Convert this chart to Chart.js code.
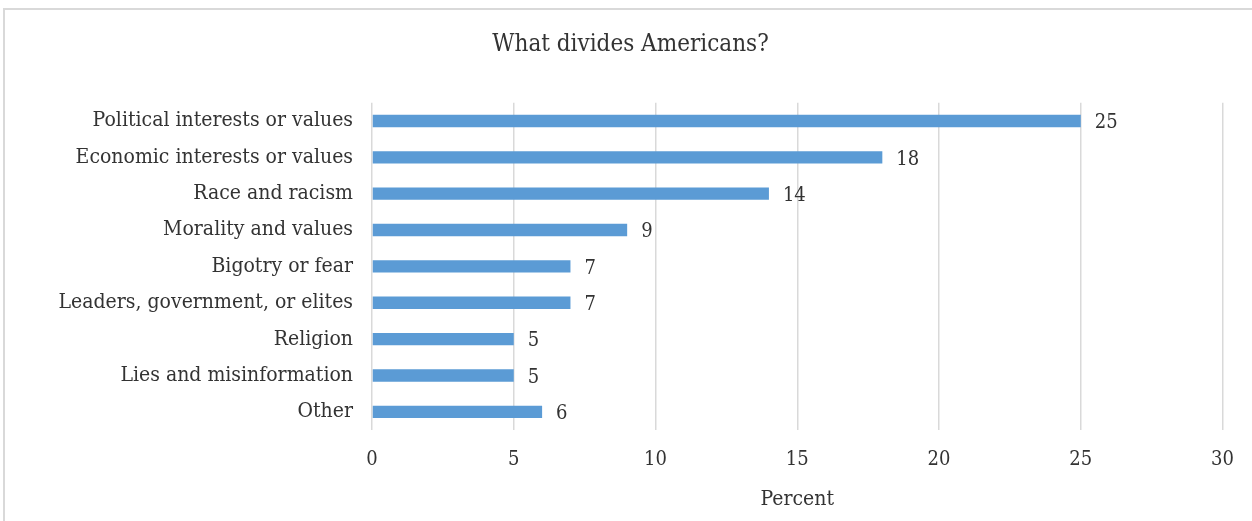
<!DOCTYPE html>
<html>
<head>
<meta charset="utf-8">
<script src="https://cdn.jsdelivr.net/npm/chart.js@4.4.1/dist/chart.umd.min.js"></script>
<style>
  html, body { margin: 0; padding: 0; background: #fff; overflow: hidden; }
  .frame {
    position: absolute; left: 3px; top: 8px; width: 1300px; height: 600px;
    border-left: 2px solid #d9d9d9; border-top: 2px solid #d9d9d9;
  }
  .wrap { position: absolute; left: 0; top: 0; width: 1252px; height: 521px; }
</style>
</head>
<body>
<div class="frame"></div>
<div class="wrap"><canvas id="divideChart"></canvas></div>
<script>
var categories = ["Political interests or values", "Economic interests or values", "Race and racism",
  "Morality and values", "Bigotry or fear", "Leaders, government, or elites", "Religion",
  "Lies and misinformation", "Other"];
var percents = [25, 18, 14, 9, 7, 7, 5, 5, 6];
var xTicks = [0, 5, 10, 15, 20, 25, 30];

var fontFamily = "'DejaVu Serif Condensed', 'DejaVu Serif', serif";
var textColor = '#333333';

// write the value just past the end of each bar
var barValues = {
  id: 'barValues',
  afterDatasetsDraw: function(chart) {
    var ctx = chart.ctx;
    var meta = chart.getDatasetMeta(0);
    ctx.save();
    ctx.font = '20px ' + fontFamily;
    ctx.fillStyle = textColor;
    ctx.textAlign = 'left';
    ctx.textBaseline = 'middle';
    meta.data.forEach(function(bar, i) {
      ctx.fillText(percents[i], bar.x + 14, bar.y + 2);
    });
    ctx.restore();
  }
};

new Chart(document.getElementById('divideChart'), {
  type: 'bar',
  data: {
    labels: categories,
    datasets: [{
      data: percents,
      backgroundColor: '#5b9bd5',
      categoryPercentage: 1,
      barPercentage: 0.34
    }]
  },
  options: {
    indexAxis: 'y',
    responsive: true,
    maintainAspectRatio: false,
    animation: false,
    layout: { padding: { left: 36, right: 27, top: 0, bottom: 9 } },
    plugins: {
      legend: { display: false },
      tooltip: { enabled: false },
      title: {
        display: true,
        text: 'What divides Americans?',
        color: textColor,
        font: { family: fontFamily, size: 24, weight: 'normal' },
        padding: { top: 30, bottom: 44 }
      }
    },
    scales: {
      x: {
        min: 0, max: 30,
        afterBuildTicks: function(scale) {
          scale.ticks = xTicks.map(function(v) { return { value: v }; });
        },
        afterFit: function(scale) { scale.height = 82; },
        grid: { color: '#d9d9d9', lineWidth: 1.5, drawTicks: false },
        border: { display: false },
        ticks: { color: textColor, padding: 18, font: { family: fontFamily, size: 20 } },
        title: {
          display: true, text: 'Percent', color: textColor,
          padding: { top: 16, bottom: 0 },
          font: { family: fontFamily, size: 21 }
        }
      },
      y: {
        afterFit: function(scale) { scale.width = 336; },
        grid: { display: false, drawTicks: false },
        border: { display: false },
        ticks: { color: textColor, padding: 19, font: { family: fontFamily, size: 21 } }
      }
    }
  },
  plugins: [barValues]
});
</script>
</body>
</html>
